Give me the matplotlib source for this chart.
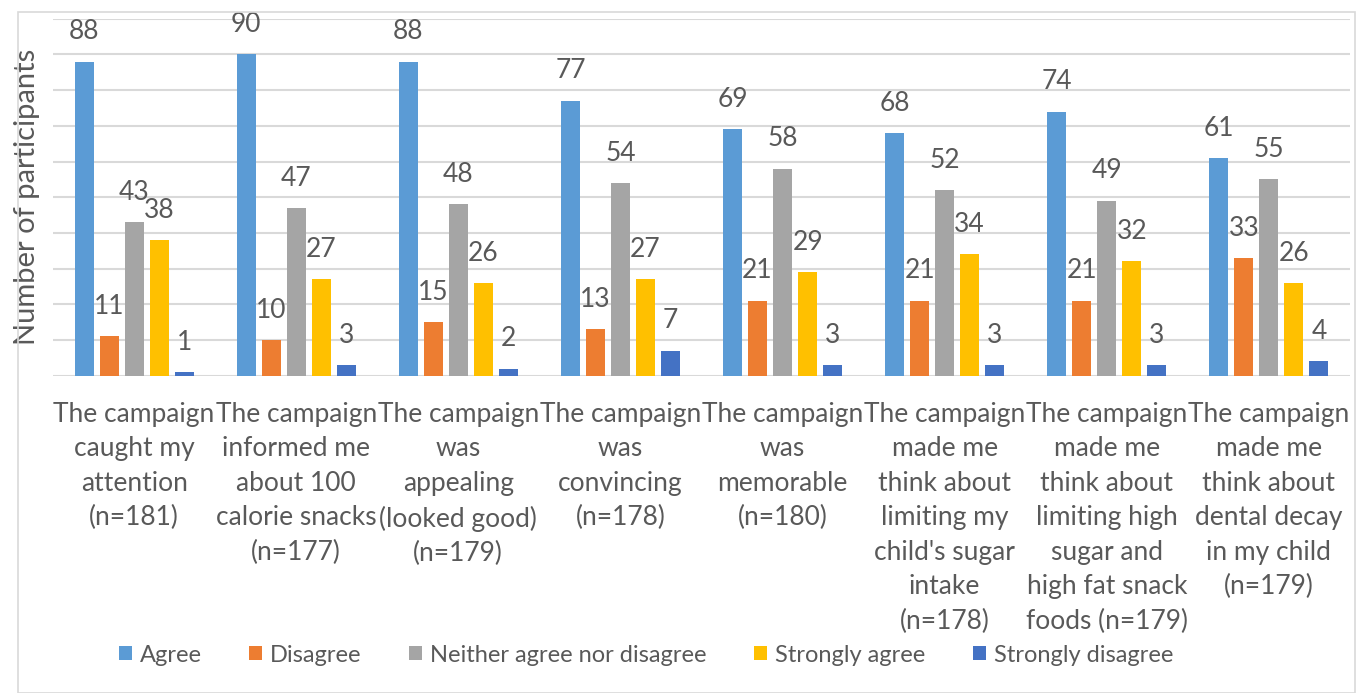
import matplotlib
matplotlib.use("Agg")
import matplotlib.pyplot as plt
import numpy as np
from matplotlib.patches import Rectangle

categories = [
    "The campaign\ncaught my\nattention\n(n=181)",
    "The campaign\ninformed me\nabout 100\ncalorie snacks\n(n=177)",
    "The campaign\nwas\nappealing\n(looked good)\n(n=179)",
    "The campaign\nwas\nconvincing\n(n=178)",
    "The campaign\nwas\nmemorable\n(n=180)",
    "The campaign\nmade me\nthink about\nlimiting my\nchild's sugar\nintake\n(n=178)",
    "The campaign\nmade me\nthink about\nlimiting high\nsugar and\nhigh fat snack\nfoods (n=179)",
    "The campaign\nmade me\nthink about\ndental decay\nin my child\n(n=179)",
]
agree = [88, 90, 88, 77, 69, 68, 74, 61]
disagree = [11, 10, 15, 13, 21, 21, 21, 33]
neither = [43, 47, 48, 54, 58, 52, 49, 55]
strongly_agree = [38, 27, 26, 27, 29, 34, 32, 26]
strongly_disagree = [1, 3, 2, 7, 3, 3, 3, 4]
series_names = ["Agree", "Disagree", "Neither agree nor disagree",
                "Strongly agree", "Strongly disagree"]
colors = ["#5B9BD5", "#ED7D31", "#A5A5A5", "#FFC000", "#4472C4"]

plt.rcParams['font.family'] = ['Lato', 'DejaVu Sans']
txt = "#595959"
fs = 19

fig = plt.figure(figsize=(13.56, 6.93), dpi=100)
fig.patches.append(Rectangle((18/1356, 0), (1355-18)/1356, 1-12/693,
                             transform=fig.transFigure, fill=False,
                             edgecolor="#d9d9d9", linewidth=1.2))
ax = fig.add_axes([53/1356, 1-375.7/693, (1350-53)/1356, (375.7-18.7)/693])

x = np.arange(len(categories))
step = 25/162
width = 19/162
all_series = [agree, disagree, neither, strongly_agree, strongly_disagree]
handles = []
for i, (vals, name, c) in enumerate(zip(all_series, series_names, colors)):
    pos = x + (i - 2) * step
    b = ax.bar(pos, vals, width=width, color=c, label=name, zorder=3)
    handles.append(b)
    for p, v in zip(pos, vals):
        ax.annotate(str(v), (p, v), xytext=(0, 12.5), textcoords="offset points",
                    ha="center", va="bottom", fontsize=fs, color=txt)

ax.set_xlim(-0.5, len(categories) - 0.5)
ax.set_ylim(0, 100)
ax.set_yticks(np.arange(0, 101, 10))
ax.set_yticklabels([])
ax.tick_params(axis='y', length=0)
ax.grid(axis='y', color="#d9d9d9", linewidth=1.5, zorder=0)
ax.set_axisbelow(True)
for s in ax.spines.values():
    s.set_visible(False)
ax.set_xticks(x)
ax.set_xticklabels(categories, fontsize=fs, color=txt, linespacing=1.47)
ax.tick_params(axis='x', length=0, pad=19)
ax.set_ylabel("Number of participants", fontsize=21, color=txt, labelpad=6)

fig.legend(handles=handles, labels=series_names, loc="center",
           bbox_to_anchor=(646/1356, 1-655/693), ncol=5, frameon=False,
           fontsize=17, labelcolor=txt, handlelength=0.55, handleheight=0.55,
           handletextpad=0.35, columnspacing=2.0)

fig.savefig("out.png", dpi=100)
